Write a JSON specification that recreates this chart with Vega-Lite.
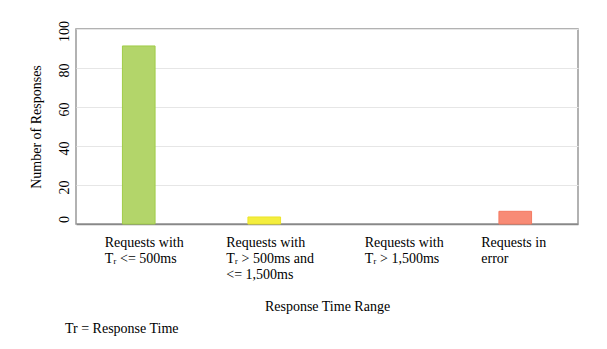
{
  "$schema": "https://vega.github.io/schema/vega-lite/v6.json",
  "width": 502,
  "height": 195,
  "autosize": {"type": "none"},
  "padding": {"left": 76, "top": 29, "right": 29, "bottom": 125},
  "background": "white",
  "title": {
    "text": "Tr = Response Time",
    "orient": "bottom",
    "anchor": "start",
    "font": "Liberation Serif",
    "fontSize": 14,
    "fontWeight": "normal",
    "color": "#000000",
    "dx": 36,
    "offset": 9
  },
  "data": {
    "values": [
      {"range": "Requests with|Tᵣ <= 500ms", "count": 91.3},
      {"range": "Requests with|Tᵣ > 500ms and|<= 1,500ms", "count": 3.6},
      {"range": "Requests with|Tᵣ > 1,500ms", "count": 0},
      {"range": "Requests in|error", "count": 6.5}
    ]
  },
  "mark": {"type": "bar", "strokeWidth": 1},
  "encoding": {
    "x": {
      "field": "range",
      "type": "nominal",
      "sort": null,
      "scale": {"paddingInner": 0.74, "paddingOuter": 0.37},
      "axis": {
        "labelExpr": "split(datum.label, '|')",
        "labelAngle": 0,
        "labelAlign": "left",
        "labelBaseline": "top",
        "labelOffset": {
          "condition": [
            {"test": "datum.value === 'Requests with|Tᵣ > 1,500ms'", "value": -25},
            {"test": "datum.value === 'Requests with|Tᵣ > 500ms and|<= 1,500ms'", "value": -38}
          ],
          "value": -34
        },
        "labelFont": "Liberation Serif",
        "labelFontSize": 14,
        "labelLineHeight": 16,
        "labelColor": "#000000",
        "labelPadding": 11,
        "labelLimit": 0,
        "ticks": false,
        "tickSize": 0,
        "domainColor": "#888888",
        "domainWidth": 1.5,
        "title": "Response Time Range",
        "titleFont": "Liberation Serif",
        "titleFontSize": 14,
        "titleFontWeight": "normal",
        "titleColor": "#000000",
        "titlePadding": 18
      }
    },
    "y": {
      "field": "count",
      "type": "quantitative",
      "scale": {"domain": [0, 100]},
      "axis": {
        "values": [0, 20, 40, 60, 80, 100],
        "labelAngle": -90,
        "labelAlign": "center",
        "labelBaseline": "bottom",
        "labelOffset": {
          "condition": {"test": "datum.value === 0", "value": -5},
          "value": 2
        },
        "labelFont": "Liberation Serif",
        "labelFontSize": 14,
        "labelColor": "#000000",
        "labelPadding": 5,
        "ticks": false,
        "tickSize": 0,
        "domain": false,
        "grid": true,
        "gridColor": "#e6e6e6",
        "title": "Number of Responses",
        "titleFont": "Liberation Serif",
        "titleFontSize": 14,
        "titleFontWeight": "normal",
        "titleColor": "#000000",
        "titlePadding": 14
      }
    },
    "fill": {
      "field": "range",
      "type": "nominal",
      "scale": {
        "domain": ["Requests with|Tᵣ <= 500ms", "Requests with|Tᵣ > 500ms and|<= 1,500ms", "Requests with|Tᵣ > 1,500ms", "Requests in|error"],
        "range": ["#b3d56a", "#f4ee3e", "transparent", "#f88b76"]
      },
      "legend": null
    },
    "stroke": {
      "field": "range",
      "type": "nominal",
      "scale": {
        "domain": ["Requests with|Tᵣ <= 500ms", "Requests with|Tᵣ > 500ms and|<= 1,500ms", "Requests with|Tᵣ > 1,500ms", "Requests in|error"],
        "range": ["#a0cc48", "#ece42a", "transparent", "#f47a62"]
      },
      "legend": null
    }
  },
  "config": {
    "view": {"stroke": "#999999", "strokeWidth": 1.5},
    "font": "Liberation Serif"
  }
}
